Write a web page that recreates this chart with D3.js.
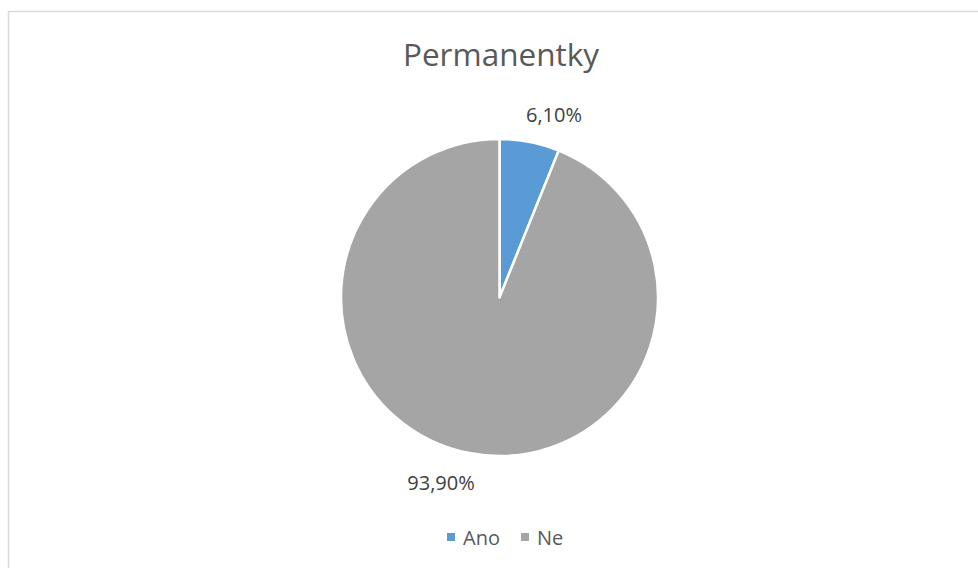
<!DOCTYPE html>
<html><head><meta charset="utf-8">
<script src="https://cdn.jsdelivr.net/npm/d3@7"></script>
<style>body{margin:0;background:#fff}text{font-family:"Open Sans",Lato,sans-serif}</style>
</head><body>
<svg id="c" width="978" height="568"></svg>
<script>
const categories = ["Ano", "Ne"];
const values = [6.10, 93.90];
const labels = ["6,10%", "93,90%"];
const colors = ["#5B9BD5", "#A5A5A5"];
const title = "Permanentky";

const svg = d3.select("#c");
svg.append("rect").attr("x", 8.5).attr("y", 11.5).attr("width", 1000).attr("height", 600)
  .attr("fill", "#fff").attr("stroke", "#D9D9D9").attr("stroke-width", 1.5);

svg.append("text").attr("x", 501).attr("y", 66).attr("text-anchor", "middle")
  .attr("font-size", 31.5).attr("fill", "#595959").text(title);

const cx = 499.5, cy = 297.5, r = 158.5;
const color = d3.scaleOrdinal().domain(categories).range(colors);
const pie = d3.pie().sort(null).value(d => d.v);
const data = categories.map((c, i) => ({c, v: values[i], l: labels[i]}));
const arcs = pie(data);
const arc = d3.arc().innerRadius(0).outerRadius(r);
const g = svg.append("g").attr("transform", `translate(${cx},${cy})`);
g.selectAll("path").data(arcs).join("path")
  .attr("d", arc).attr("fill", d => color(d.data.c))
  .attr("stroke", "#fff").attr("stroke-width", 2.5).attr("stroke-linejoin", "round");

const labelPos = [[554, 122], [441, 490]];
g.selectAll("text.lbl").data(arcs).join("text").attr("class", "lbl")
  .attr("x", (d, i) => labelPos[i][0] - cx).attr("y", (d, i) => labelPos[i][1] - cy)
  .attr("text-anchor", "middle").attr("font-size", 20).attr("fill", "#404040")
  .text(d => d.data.l);

const leg = svg.append("g");
const legX = [447, 521];
categories.forEach((c, i) => {
  leg.append("rect").attr("x", legX[i]).attr("y", 533).attr("width", 8).attr("height", 8).attr("fill", color(c));
  leg.append("text").attr("x", legX[i] + 16).attr("y", 545).attr("font-size", 20).attr("fill", "#595959").text(c);
});
</script>
</body></html>
